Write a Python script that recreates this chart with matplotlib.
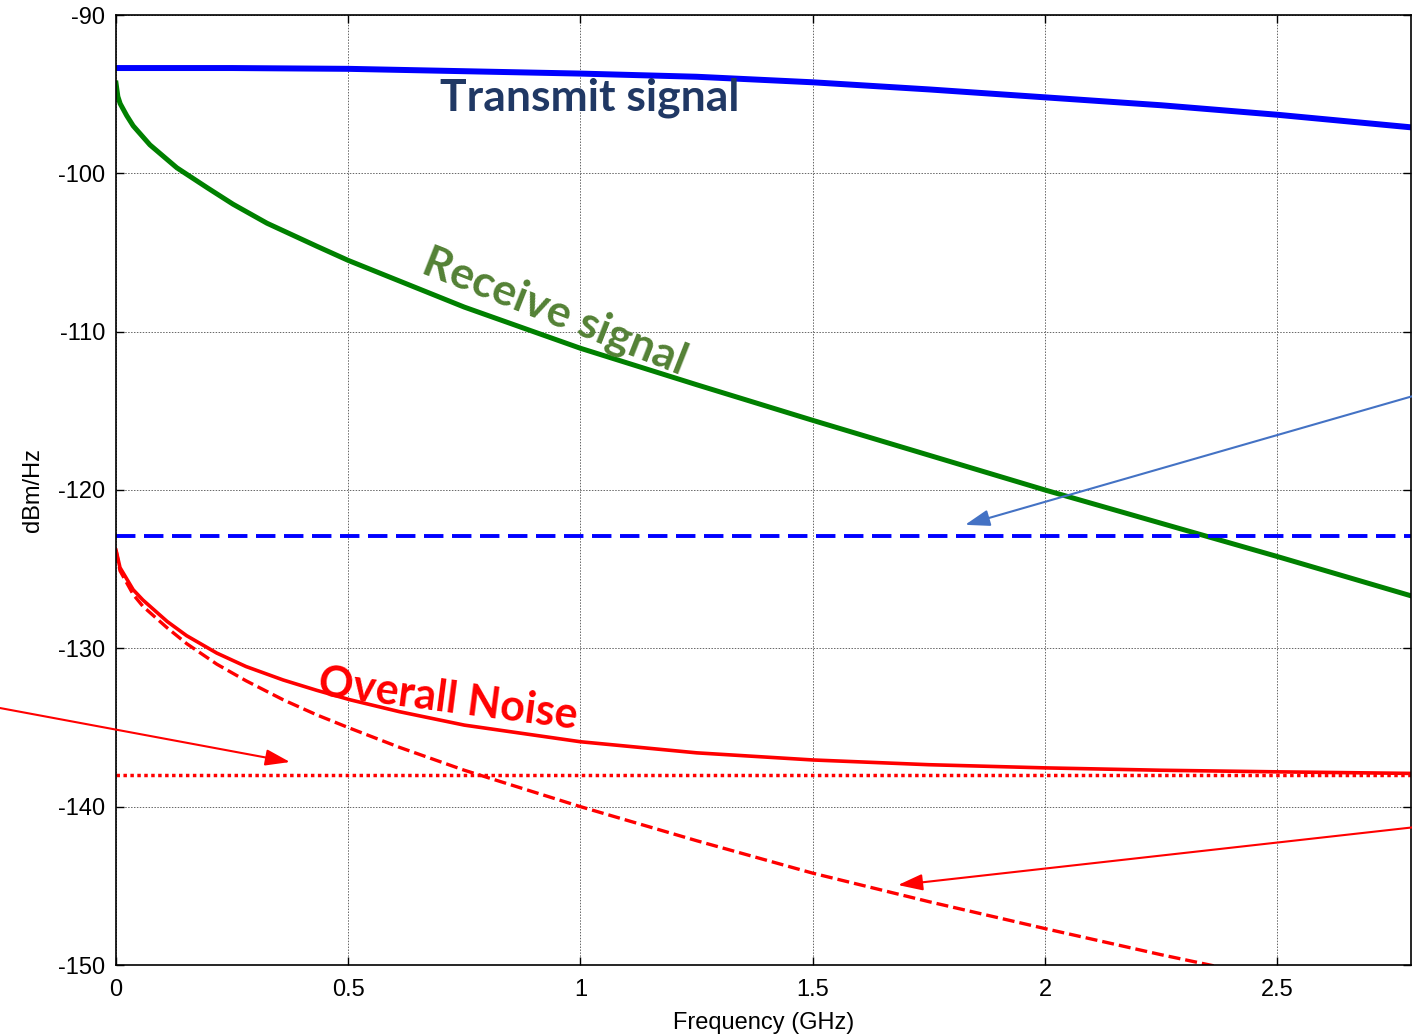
import matplotlib
matplotlib.use("Agg")
import matplotlib.pyplot as plt

plt.rcParams["axes.unicode_minus"] = False

# ---- data ----
f_tx = [0.0, 0.25, 0.5, 0.75, 1.0, 1.25, 1.5, 1.75, 2.0, 2.25, 2.5, 2.79]
transmit = [-93.35, -93.35, -93.4, -93.55, -93.7, -93.9, -94.25, -94.7, -95.2, -95.7, -96.3, -97.1]

f_rx = [0.0, 0.004, 0.009, 0.023, 0.037, 0.073, 0.131, 0.196, 0.252, 0.325, 0.432, 0.5,
        0.75, 1.0, 1.25, 1.5, 1.75, 2.0, 2.25, 2.5, 2.79]
receive = [-94.3, -95.15, -95.6, -96.35, -97.0, -98.2, -99.65, -100.9, -101.95, -103.15, -104.6, -105.5,
           -108.45, -111.05, -113.35, -115.6, -117.8, -120.0, -122.1, -124.2, -126.7]

f_n = [0.0, 0.0086, 0.037, 0.058, 0.11, 0.152, 0.217, 0.28, 0.36, 0.432, 0.504, 0.61,
       0.75, 1.0, 1.25, 1.5, 1.75, 2.0, 2.25, 2.5, 2.79]
overall_noise = [-123.8, -124.9, -126.3, -126.95, -128.3, -129.2, -130.3, -131.15, -132.0, -132.65,
                 -133.25, -134.0, -134.85, -135.9, -136.6, -137.05, -137.35, -137.55, -137.7, -137.8, -137.9]
xtalk_noise = [-123.8, -125.1, -126.6, -127.35, -128.7, -129.7, -131.0, -132.05, -133.25, -134.2,
               -135.05, -136.25, -137.7, -140.0, -142.15, -144.2, -146.0, -147.7, -149.35, -150.9, -152.6]

tx_floor = -122.9
noise_floor = -138.0

xticks = [0, 0.5, 1, 1.5, 2, 2.5]
xticklabels = ["0", "0.5", "1", "1.5", "2", "2.5"]
yticks = [-150, -140, -130, -120, -110, -100, -90]

# ---- figure ----
W, H = 1412, 1035
fig = plt.figure(figsize=(W / 100, H / 100), dpi=100)
ax = fig.add_axes([116 / W, 1 - 965 / H, (1411 - 116) / W, (965 - 15) / H])
ax.set_xlim(0, 2.788)
ax.set_ylim(-150, -90)

ax.grid(True, color="#666666", linestyle=(0, (1.5, 1.5)), linewidth=0.7)
ax.set_axisbelow(True)

ax.plot(f_tx, transmit, color="#0000FF", lw=4.3, solid_capstyle="butt")
ax.plot(f_rx, receive, color="#008000", lw=3.6)
ax.axhline(tx_floor, color="#0000FF", lw=2.8, linestyle=(0, (5, 2.2)))
ax.plot(f_n, overall_noise, color="#FF0000", lw=2.6)
ax.plot(f_n, xtalk_noise, color="#FF0000", lw=2.4, linestyle=(0, (3.6, 1.5)))
ax.axhline(noise_floor, color="#FF0000", lw=2.5, linestyle=(0, (1, 1)))

ax.set_xticks(xticks)
ax.set_xticklabels(xticklabels)
ax.set_yticks(yticks)
ax.tick_params(direction="in", top=True, right=True, length=6, width=1, labelsize=17)
ax.tick_params(axis="x", pad=10)
ax.tick_params(axis="y", pad=8)
for lab in ax.get_xticklabels() + ax.get_yticklabels():
    lab.set_family("Liberation Sans")
for s in ax.spines.values():
    s.set_linewidth(1.2)

ax.set_xlabel("Frequency (GHz)", fontsize=17, family="Liberation Sans", labelpad=8)
ax.set_ylabel("dBm/Hz", fontsize=17, family="Liberation Sans", labelpad=10)

# ---- annotations ----
ax.text(1.02, -95.25, "Transmit signal", color="#203864", fontsize=32, fontweight="bold",
        family="Lato", ha="center", va="center")
ax.text(0.945, -108.75, "Receive signal", color="#538135", fontsize=32, fontweight="bold",
        family="Lato", ha="center", va="center", rotation=-21.5, rotation_mode="anchor")
ax.text(0.715, -133.2, "Overall Noise", color="#FF0000", fontsize=31, fontweight="bold",
        family="Lato", ha="center", va="center", rotation=-7.5, rotation_mode="anchor")

arrow_style = "-|>,head_length=1.5,head_width=0.5"
ax.annotate("", xy=(1.828, -122.2), xytext=(2.80, -114.0), xycoords="data",
            arrowprops=dict(arrowstyle=arrow_style, color="#4472C4", lw=1.5, shrinkA=0, shrinkB=0),
            annotation_clip=False)
ax.annotate("", xy=(0.3746, -137.18), xytext=(-0.2497, -133.77), xycoords="data",
            arrowprops=dict(arrowstyle=arrow_style, color="#FF0000", lw=1.5, shrinkA=0, shrinkB=0),
            annotation_clip=False)
ax.annotate("", xy=(1.6835, -144.95), xytext=(2.80, -141.28), xycoords="data",
            arrowprops=dict(arrowstyle=arrow_style, color="#FF0000", lw=1.5, shrinkA=0, shrinkB=0),
            annotation_clip=False)

fig.savefig("out.png", dpi=100)
